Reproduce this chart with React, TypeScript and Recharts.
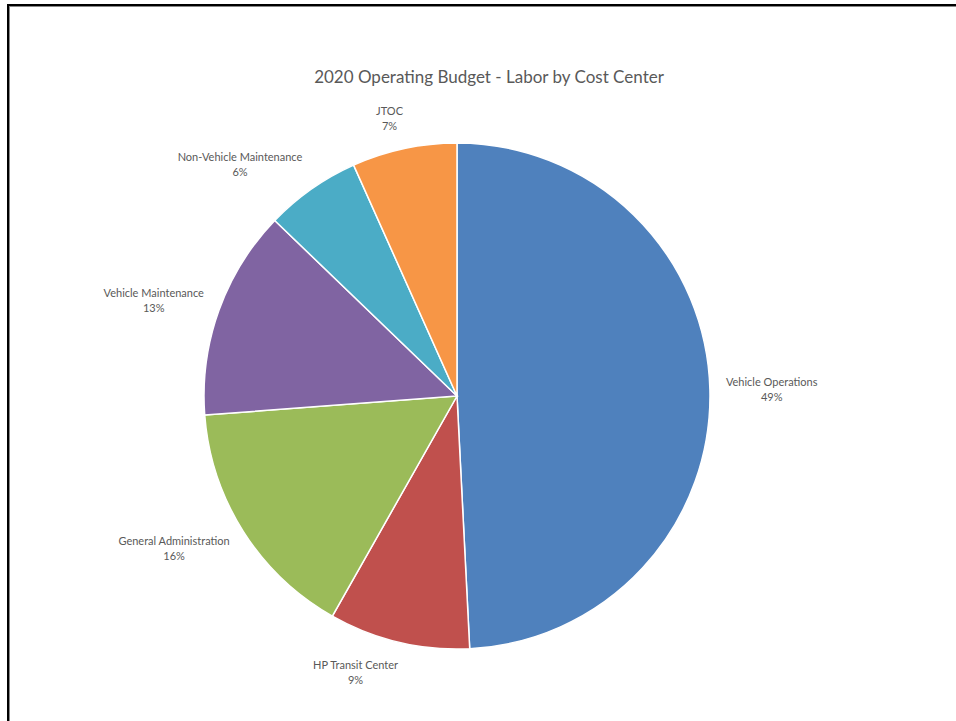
import React from "react";
import { PieChart, Pie, Cell } from "recharts";

const categories = [
  "Vehicle Operations",
  "HP Transit Center",
  "General Administration",
  "Vehicle Maintenance",
  "Non-Vehicle Maintenance",
  "JTOC",
];
const values = [49.2, 9.0, 15.6, 13.4, 6.1, 6.7];
const colors = ["#4F81BD", "#C0504D", "#9BBB59", "#8064A2", "#4BACC6", "#F79646"];
const title = "2020 Operating Budget - Labor by Cost Center";

const data = categories.map((name, i) => ({ name, value: values[i] }));

const FONT = "Lato, 'Open Sans', sans-serif";
const RAD = Math.PI / 180;

let ctx: CanvasRenderingContext2D | null = null;
function measure(text: string, font: string) {
  if (!ctx) ctx = document.createElement("canvas").getContext("2d");
  if (!ctx) return text.length * 5.5;
  ctx.font = font;
  return ctx.measureText(text).width;
}

const clamp = (v: number) => Math.max(-1, Math.min(1, v));

const renderLabel = (props: any) => {
  const { cx, cy, midAngle, outerRadius, name, percent } = props;
  const dx = Math.cos(-midAngle * RAD);
  const dy = Math.sin(-midAngle * RAD);
  const w = measure(name, "11px Lato");
  const h = 30;
  const d = 16;
  const x = cx + (outerRadius + d) * dx + (w / 2) * clamp(dx * 4);
  const y = cy + (outerRadius + d) * dy + (h / 2) * dy;
  return (
    <text
      x={x}
      y={y}
      textAnchor="middle"
      fill="#595959"
      fontSize={11}
      fontFamily={FONT}
    >
      <tspan x={x} dy={-3}>{name}</tspan>
      <tspan x={x} dy={15}>{Math.round(percent * 100) + "%"}</tspan>
    </text>
  );
};

export default function App() {
  return (
    <div
      style={{
        position: "fixed",
        left: 0,
        top: 0,
        width: 956,
        height: 721,
        overflow: "hidden",
        background: "#fff",
      }}
    >
      <div
        style={{
          position: "absolute",
          left: 7,
          top: 4,
          width: 1000,
          height: 800,
          borderLeft: "2px solid #000",
          borderTop: "2px solid #000",
          boxShadow: "1px 1px 0 0 #888 inset",
        }}
      />
      <div
        style={{
          position: "absolute",
          left: 0,
          top: 66,
          width: 978,
          textAlign: "center",
          fontFamily: FONT,
          fontSize: 17,
          color: "#595959",
          whiteSpace: "nowrap",
        }}
      >
        {title}
      </div>
      <div style={{ position: "absolute", left: 0, top: 0 }}>
        <PieChart width={956} height={721} margin={{ top: 0, right: 0, bottom: 0, left: 0 }}>
          <Pie
            data={data}
            dataKey="value"
            nameKey="name"
            cx={457}
            cy={396}
            outerRadius={253}
            startAngle={90}
            endAngle={-270}
            stroke="#fff"
            strokeWidth={1.5}
            label={renderLabel}
            labelLine={false}
            isAnimationActive={false}
          >
            {data.map((d, i) => (
              <Cell key={d.name} fill={colors[i]} />
            ))}
          </Pie>
        </PieChart>
      </div>
    </div>
  );
}
